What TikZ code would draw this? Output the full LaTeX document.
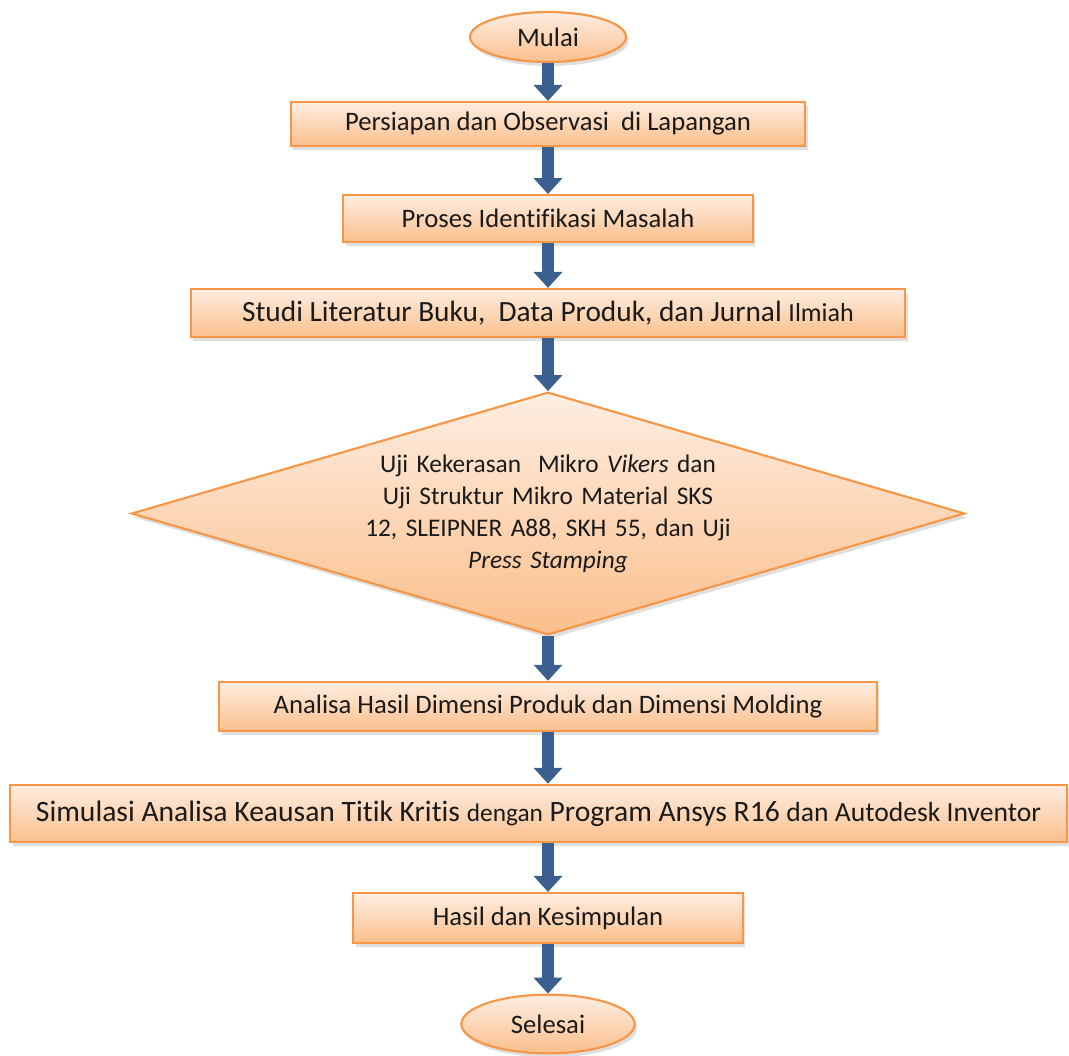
\documentclass[tikz,border=0pt]{standalone}
\usepackage{fontspec}
\setmainfont{Carlito}[Ligatures={NoCommon}]
\usetikzlibrary{shapes.geometric,arrows.meta,shadows}
\definecolor{boxtop}{HTML}{FEEEE2}
\definecolor{boxbot}{HTML}{FBBF8C}
\definecolor{boxline}{HTML}{F79646}
\definecolor{arrowblue}{HTML}{3B6090}
\definecolor{txt}{HTML}{1A1A1A}
\tikzset{
  base/.style={draw=boxline, line width=1.6pt, top color=boxtop, bottom color=boxbot,
    text=txt, inner sep=0pt,
    drop shadow={opacity=0.25, shadow xshift=2pt, shadow yshift=-3pt}},
  stepbox/.style={base, rectangle, font=\fontsize{20}{24}\selectfont},
  term/.style={base, ellipse, font=\fontsize{20}{24}\selectfont},
  decide/.style={base, diamond, aspect=3.4, align=center, text width=290pt,
    font=\fontsize{19}{24}\selectfont},
  flow/.style={draw=arrowblue, line width=9pt,
    -{Triangle[width=21pt,length=12pt]}, shorten >=0pt}
}
\begin{document}
\begin{tikzpicture}[x=0.75pt,y=-0.75pt]
\useasboundingbox (0,0) rectangle (1069,1055);
\node[term, minimum width=117pt, minimum height=37.5pt] (mulai) at (548,37) {Mulai};
\node[stepbox, minimum width=386pt, minimum height=33pt] (b1) at (548,124) {Persiapan dan Observasi \ di Lapangan};
\node[stepbox, minimum width=307pt, minimum height=35pt] (b2) at (548,218.5) {Proses Identifikasi Masalah};
\node[stepbox, minimum width=536pt, minimum height=36pt] (b3) at (548,313)
  {\fontsize{22}{24}\selectfont Studi Literatur Buku, \ Data Produk, dan Jurnal {\fontsize{19.5}{24}\selectfont Ilmiah}};
\node[decide, minimum width=625pt, minimum height=182pt] (d) at (548,513.5)
  {Uji Kekerasan \ Mikro \textit{Vikers} dan\\ Uji Struktur Mikro Material SKS\\ 12, SLEIPNER A88, SKH 55, dan Uji\\ \textit{Press Stamping}};
\node[stepbox, minimum width=493pt, minimum height=37pt] (b4) at (548,706.5) {Analisa Hasil Dimensi Produk dan Dimensi Molding};
\node[stepbox, minimum width=793pt, minimum height=43pt] (b5) at (538.5,813.5)
  {\fontsize{22.2}{24}\selectfont Simulasi Analisa Keausan Titik Kritis {\fontsize{19}{24}\selectfont dengan} Program Ansys R16 {\fontsize{20.7}{24}\selectfont dan Autodesk Inventor}};
\node[stepbox, minimum width=292pt, minimum height=37.5pt] (b6) at (548,918) {Hasil dan Kesimpulan};
\node[term, minimum width=130pt, minimum height=44pt] (selesai) at (548,1024) {Selesai};
\draw[flow] (mulai) -- (b1);
\draw[flow] (b1) -- (b2);
\draw[flow] (b2) -- (b3);
\draw[flow] (b3) -- (d);
\draw[flow] (d) -- (b4);
\draw[flow] (b4.south) -- (b4.south |- b5.north);
\draw[flow] (b6.north |- b5.south) -- (b6.north);
\draw[flow] (b6) -- (selesai);
\end{tikzpicture}
\end{document}
